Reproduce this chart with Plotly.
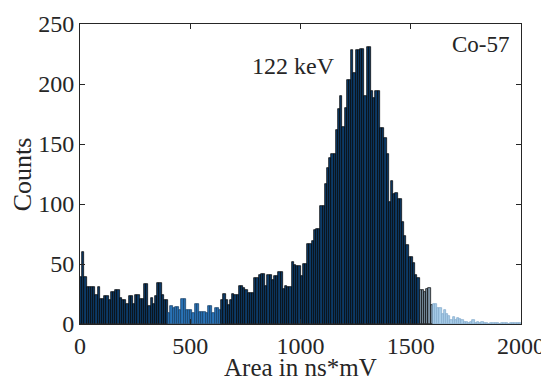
import plotly.graph_objects as go

# Histogram of Co-57 spectrum: bin width 10 ns*mV, bins 0..2000
bin_edges_start = 0
bin_width = 10
counts = [
    39, 60, 39, 31, 31, 31, 31, 24, 31, 21,
    21, 23, 23, 20, 27, 27, 28, 28, 22, 20,
    20, 17, 23, 23, 17, 24, 24, 21, 21, 33,
    33, 15, 22, 17, 23, 34, 34, 24, 20, 20,
    9, 15, 13, 14, 14, 12, 21, 21, 12, 12,
    12, 9, 17, 17, 10, 10, 10, 9, 15, 15,
    9, 13, 13, 12, 20, 25, 20, 16, 20, 25,
    24, 24, 32, 32, 30, 28, 26, 26, 26, 38,
    38, 41, 42, 42, 32, 41, 41, 37, 40, 40,
    43, 43, 29, 32, 31, 31, 52, 49, 48, 48,
    40, 50, 50, 67, 67, 69, 78, 79, 79, 98,
    98, 117, 130, 138, 142, 142, 162, 179, 190, 164,
    180, 203, 203, 228, 209, 228, 228, 229, 229, 190,
    231, 231, 194, 188, 194, 194, 163, 163, 155, 142,
    102, 119, 108, 109, 104, 104, 85, 73, 66, 56,
    56, 51, 41, 38, 28, 28, 27, 29, 30, 16,
    17, 17, 13, 13, 8, 12, 8, 7, 3, 6,
    3, 5, 4, 3, 2, 2, 1, 2, 3, 1,
    2, 1, 2, 1, 1, 0, 1, 1, 1, 1,
    0, 1, 1, 1, 0, 1, 1, 1, 1, 1,
]
x_ticks = [0, 500, 1000, 1500, 2000]
y_ticks = [0, 50, 100, 150, 200, 250]
x_title = "Area in ns*mV"
y_title = "Counts"
peak_label = "122 keV"
source_label = "Co-57"

centers = [bin_edges_start + bin_width * (i + 0.5) for i in range(len(counts))]

def face(c):
    if 400 <= c < 640:
        return "#2a74b8"
    if 1540 <= c < 1600:
        return "#7d93a6"
    if c >= 1600:
        return "#a8cde8"
    return "#0d3a66"

def edge(c):
    if 400 <= c < 640:
        return "#123a60"
    if c >= 1600:
        return "#7fa8c8"
    return "#000000"

fig = go.Figure(go.Bar(
    x=centers,
    y=counts,
    width=bin_width,
    marker=dict(color=[face(c) for c in centers],
                line=dict(color=[edge(c) for c in centers], width=0.7)),
))

font_family = "Liberation Serif, Times New Roman, serif"
text_color = "#262626"
axis_common = dict(
    showline=True, linecolor=text_color, linewidth=1, mirror="ticks",
    ticks="inside", ticklen=5, tickcolor=text_color,
    showgrid=False, zeroline=False, automargin=False,
    tickfont=dict(family=font_family, size=24, color=text_color),
)

# page body has an 8px default margin, so the figure is sized to fit inside it
fig.update_layout(
    width=541, height=373,
    margin=dict(l=72, r=28, t=16, b=57),
    paper_bgcolor="white", plot_bgcolor="white",
    showlegend=False,
    bargap=0,
    xaxis=dict(range=[0, 2000], tickvals=x_ticks, **axis_common),
    yaxis=dict(range=[0, 250], tickvals=y_ticks, **axis_common),
    annotations=[
        dict(x=0.5, y=-0.145, xref="paper", yref="paper", text=x_title, showarrow=False,
             xanchor="center", yanchor="middle",
             font=dict(family=font_family, size=25, color=text_color)),
        dict(x=-0.131, y=0.5, xref="paper", yref="paper", text=y_title, showarrow=False,
             xanchor="center", yanchor="middle", textangle=-90,
             font=dict(family=font_family, size=26, color=text_color)),
        dict(x=966, y=215, xref="x", yref="y", text=peak_label, showarrow=False,
             xanchor="center", yanchor="middle",
             font=dict(family=font_family, size=24, color=text_color)),
        dict(x=0.98, y=0.933, xref="paper", yref="paper", text=source_label, showarrow=False,
             xanchor="right", yanchor="middle",
             font=dict(family=font_family, size=23, color=text_color)),
    ],
)

fig.write_html("out.html")
